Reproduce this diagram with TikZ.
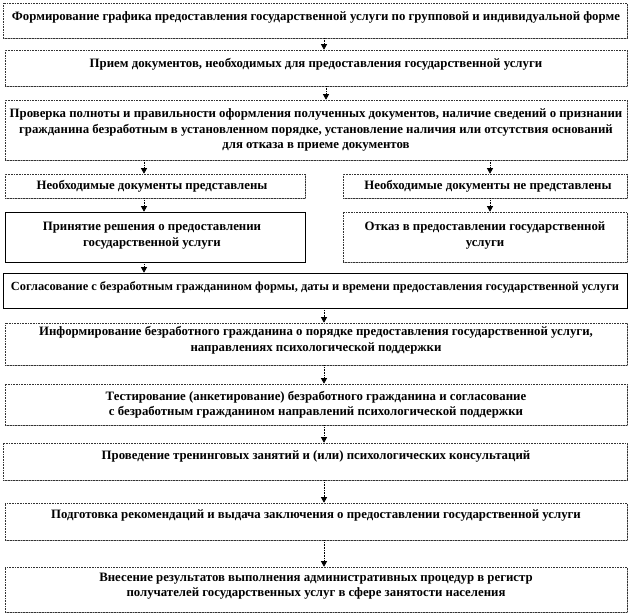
\documentclass[tikz,border=0pt]{standalone}
\usepackage{fontspec}
\setmainfont{Liberation Serif}
\usetikzlibrary{shadows,arrows.meta}
\tikzset{
  stepbox/.style={draw=black!80, densely dotted, line width=0.6pt, fill=white,
    drop shadow={shadow xshift=1.2pt, shadow yshift=-1.2pt, fill=black!75}, inner sep=0pt},
  solidbox/.style={stepbox, solid, draw=black},
  txt/.style={font=\bfseries\fontsize{12.8}{15.5}\selectfont, align=center, inner sep=0pt},
  tighttxt/.style={txt, font=\bfseries\fontsize{12.4}{15.5}\selectfont},
  arr/.style={densely dotted, line width=0.6pt, -{Triangle[width=6pt,length=5.5pt]}}
}
\begin{document}
\begin{tikzpicture}[x=1pt,y=-1pt]
\useasboundingbox (0,0) rectangle (632,615);
\coordinate (xa) at (324,0);
\coordinate (xb) at (326,0);
\coordinate (xl) at (144,0);
\coordinate (xr) at (490,0);
% boxes
\node[stepbox, minimum width=624pt, minimum height=35pt] (b1) at (315,20.5) {};
\node[stepbox, minimum width=622pt, minimum height=36pt] (b2) at (316,68) {};
\node[stepbox, minimum width=622pt, minimum height=60pt] (b3) at (316,130) {};
\node[stepbox, minimum width=300pt, minimum height=24pt] (b4l) at (155,186) {};
\node[stepbox, minimum width=284pt, minimum height=24pt] (b4r) at (485,186) {};
\node[solidbox, minimum width=300pt, minimum height=50pt] (b5l) at (155,237) {};
\node[stepbox, minimum width=284pt, minimum height=50pt] (b5r) at (485,237) {};
\node[solidbox, minimum width=624pt, minimum height=35pt] (b6) at (315,290.5) {};
\node[stepbox, minimum width=622pt, minimum height=42pt] (b7) at (316,344) {};
\node[stepbox, minimum width=622pt, minimum height=41pt] (b8) at (316,404.5) {};
\node[stepbox, minimum width=624pt, minimum height=37pt] (b9) at (315,461.5) {};
\node[stepbox, minimum width=622pt, minimum height=37pt] (b10) at (316,521.5) {};
\node[stepbox, minimum width=622pt, minimum height=45pt] (b11) at (316,589.5) {};
% texts
\node[txt] (t1) at (316,17) {Формирование графика предоставления государственной услуги по групповой и индивидуальной форме};
\node[txt] (t2) at (316,64) {Прием документов, необходимых для предоставления государственной услуги};
\node[txt] (t3) at (316,130) {Проверка полноты и правильности оформления полученных документов, наличие сведений о признании\\гражданина безработным в установленном порядке, установление наличия или отсутствия оснований\\для отказа в приеме документов};
\node[txt] (t4l) at (152,186) {Необходимые документы представлены};
\node[txt] (t4r) at (488,186) {Необходимые документы не представлены};
\node[txt] (t5l) at (152,235.5) {Принятие решения о предоставлении\\государственной услуги};
\node[txt] (t5r) at (485,235.5) {Отказ в предоставлении государственной\\услуги};
\node[tighttxt] (t6) at (315,287) {Согласование с безработным гражданином формы, даты и времени предоставления государственной услуги};
\node[txt] (t7) at (316,340.5) {Информирование безработного гражданина о порядке предоставления государственной услуги,\\направлениях психологической поддержки};
\node[txt] (t8) at (316,405) {Тестирование (анкетирование) безработного гражданина и согласование\\с безработным гражданином направлений психологической поддержки};
\node[txt] (t9) at (316,456) {Проведение тренинговых занятий и (или) психологических консультаций};
\node[txt] (t10) at (316,515) {Подготовка рекомендаций и выдача заключения о предоставлении государственной услуги};
\node[txt] (t11) at (316,586) {Внесение результатов выполнения административных процедур в регистр\\получателей государственных услуг в сфере занятости населения};
% arrows
\draw[arr] (b1.south -| xa) -- (b2.north -| xa);
\draw[arr] (b2.south -| xb) -- (b3.north -| xb);
\draw[arr] (b3.south -| xl) -- (b4l.north -| xl);
\draw[arr] (b3.south -| xr) -- (b4r.north -| xr);
\draw[arr] (b4l.south -| xl) -- (b5l.north -| xl);
\draw[arr] (b4r.south -| xr) -- (b5r.north -| xr);
\draw[arr] (b5l.south -| xl) -- (b6.north -| xl);
\draw[arr] (b6.south -| xa) -- (b7.north -| xa);
\draw[arr] (b7.south -| xa) -- (b8.north -| xa);
\draw[arr] (b8.south -| xa) -- (b9.north -| xa);
\draw[arr] (b9.south -| xa) -- (b10.north -| xa);
\draw[arr] (b10.south -| xa) -- (b11.north -| xa);
\end{tikzpicture}
\end{document}
